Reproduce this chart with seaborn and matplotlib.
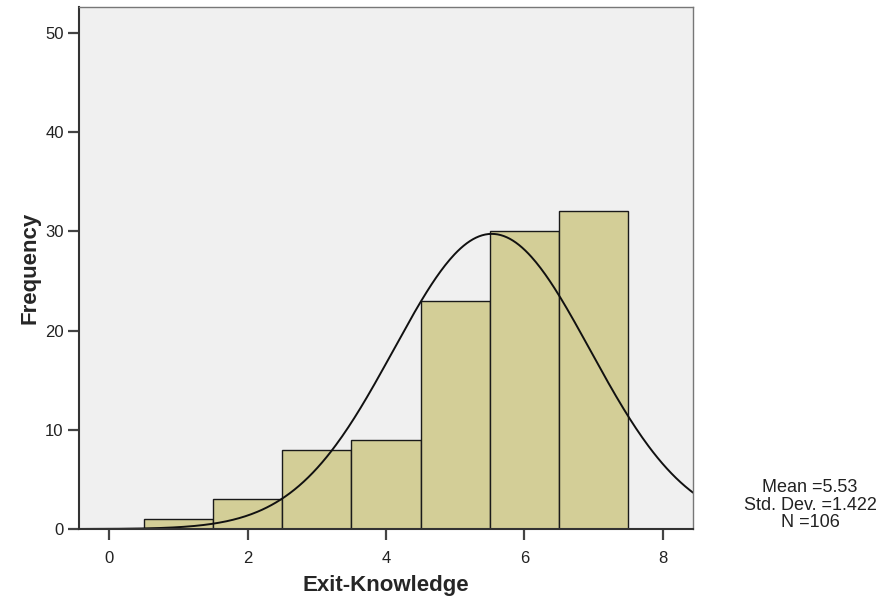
import numpy as np
import pandas as pd
import matplotlib
matplotlib.use("Agg")
import matplotlib.pyplot as plt
import seaborn as sns

# Data
scores = [1, 2, 3, 4, 5, 6, 7]
counts = [1, 3, 8, 9, 23, 30, 32]
mean_val = 5.53
sd_val = 1.422
n_val = 106
x_ticks = [0, 2, 4, 6, 8]
y_ticks = [0, 10, 20, 30, 40, 50]

sns.set_style("white")
plt.rcParams['font.family'] = ['Liberation Sans', 'DejaVu Sans']

fig = plt.figure(figsize=(8.93, 5.98), dpi=100)
ax = fig.add_axes([79/893, 69/598, (693-79)/893, (529-7)/598])
ax.set_facecolor('#F0F0F0')

df = pd.DataFrame({"score": scores, "count": counts})
sns.histplot(data=df, x="score", weights="count", discrete=True, ax=ax,
             color='#D3CE97', edgecolor='#1a1a1a', linewidth=1.0, alpha=1.0)

xlo, xhi = -0.44, 8.44
xs = np.linspace(xlo, xhi, 400)
ys = n_val * 1.0 / (sd_val * np.sqrt(2 * np.pi)) * np.exp(-0.5 * ((xs - mean_val) / sd_val) ** 2)
sns.lineplot(x=xs, y=ys, ax=ax, color='#111111', linewidth=1.4)

ax.set_xlim(xlo, xhi)
ax.set_ylim(0, 52.6)
ax.set_xticks(x_ticks)
ax.set_yticks(y_ticks)
ax.tick_params(axis='both', which='major', bottom=True, left=True, top=False, right=False,
               direction='out', length=8, width=1.6, color='#444444',
               labelsize=12, labelcolor='#222222', pad=3)
ax.tick_params(axis='x', pad=8)

for side in ['top', 'right']:
    ax.spines[side].set_color('#777777')
    ax.spines[side].set_linewidth(1.0)
for side in ['left', 'bottom']:
    ax.spines[side].set_color('#333333')
    ax.spines[side].set_linewidth(1.5)

ax.set_xlabel("Exit-Knowledge", fontsize=16, fontweight='bold', labelpad=6)
ax.set_ylabel("Frequency", fontsize=16, fontweight='bold', labelpad=3)

fig.text(810/893, 1 - 505/598, "Mean =5.53\nStd. Dev. =1.422\nN =106",
         ha='center', va='center', fontsize=13, color='#222222', linespacing=1.02)

fig.savefig("out.png", dpi=100, facecolor='white')
